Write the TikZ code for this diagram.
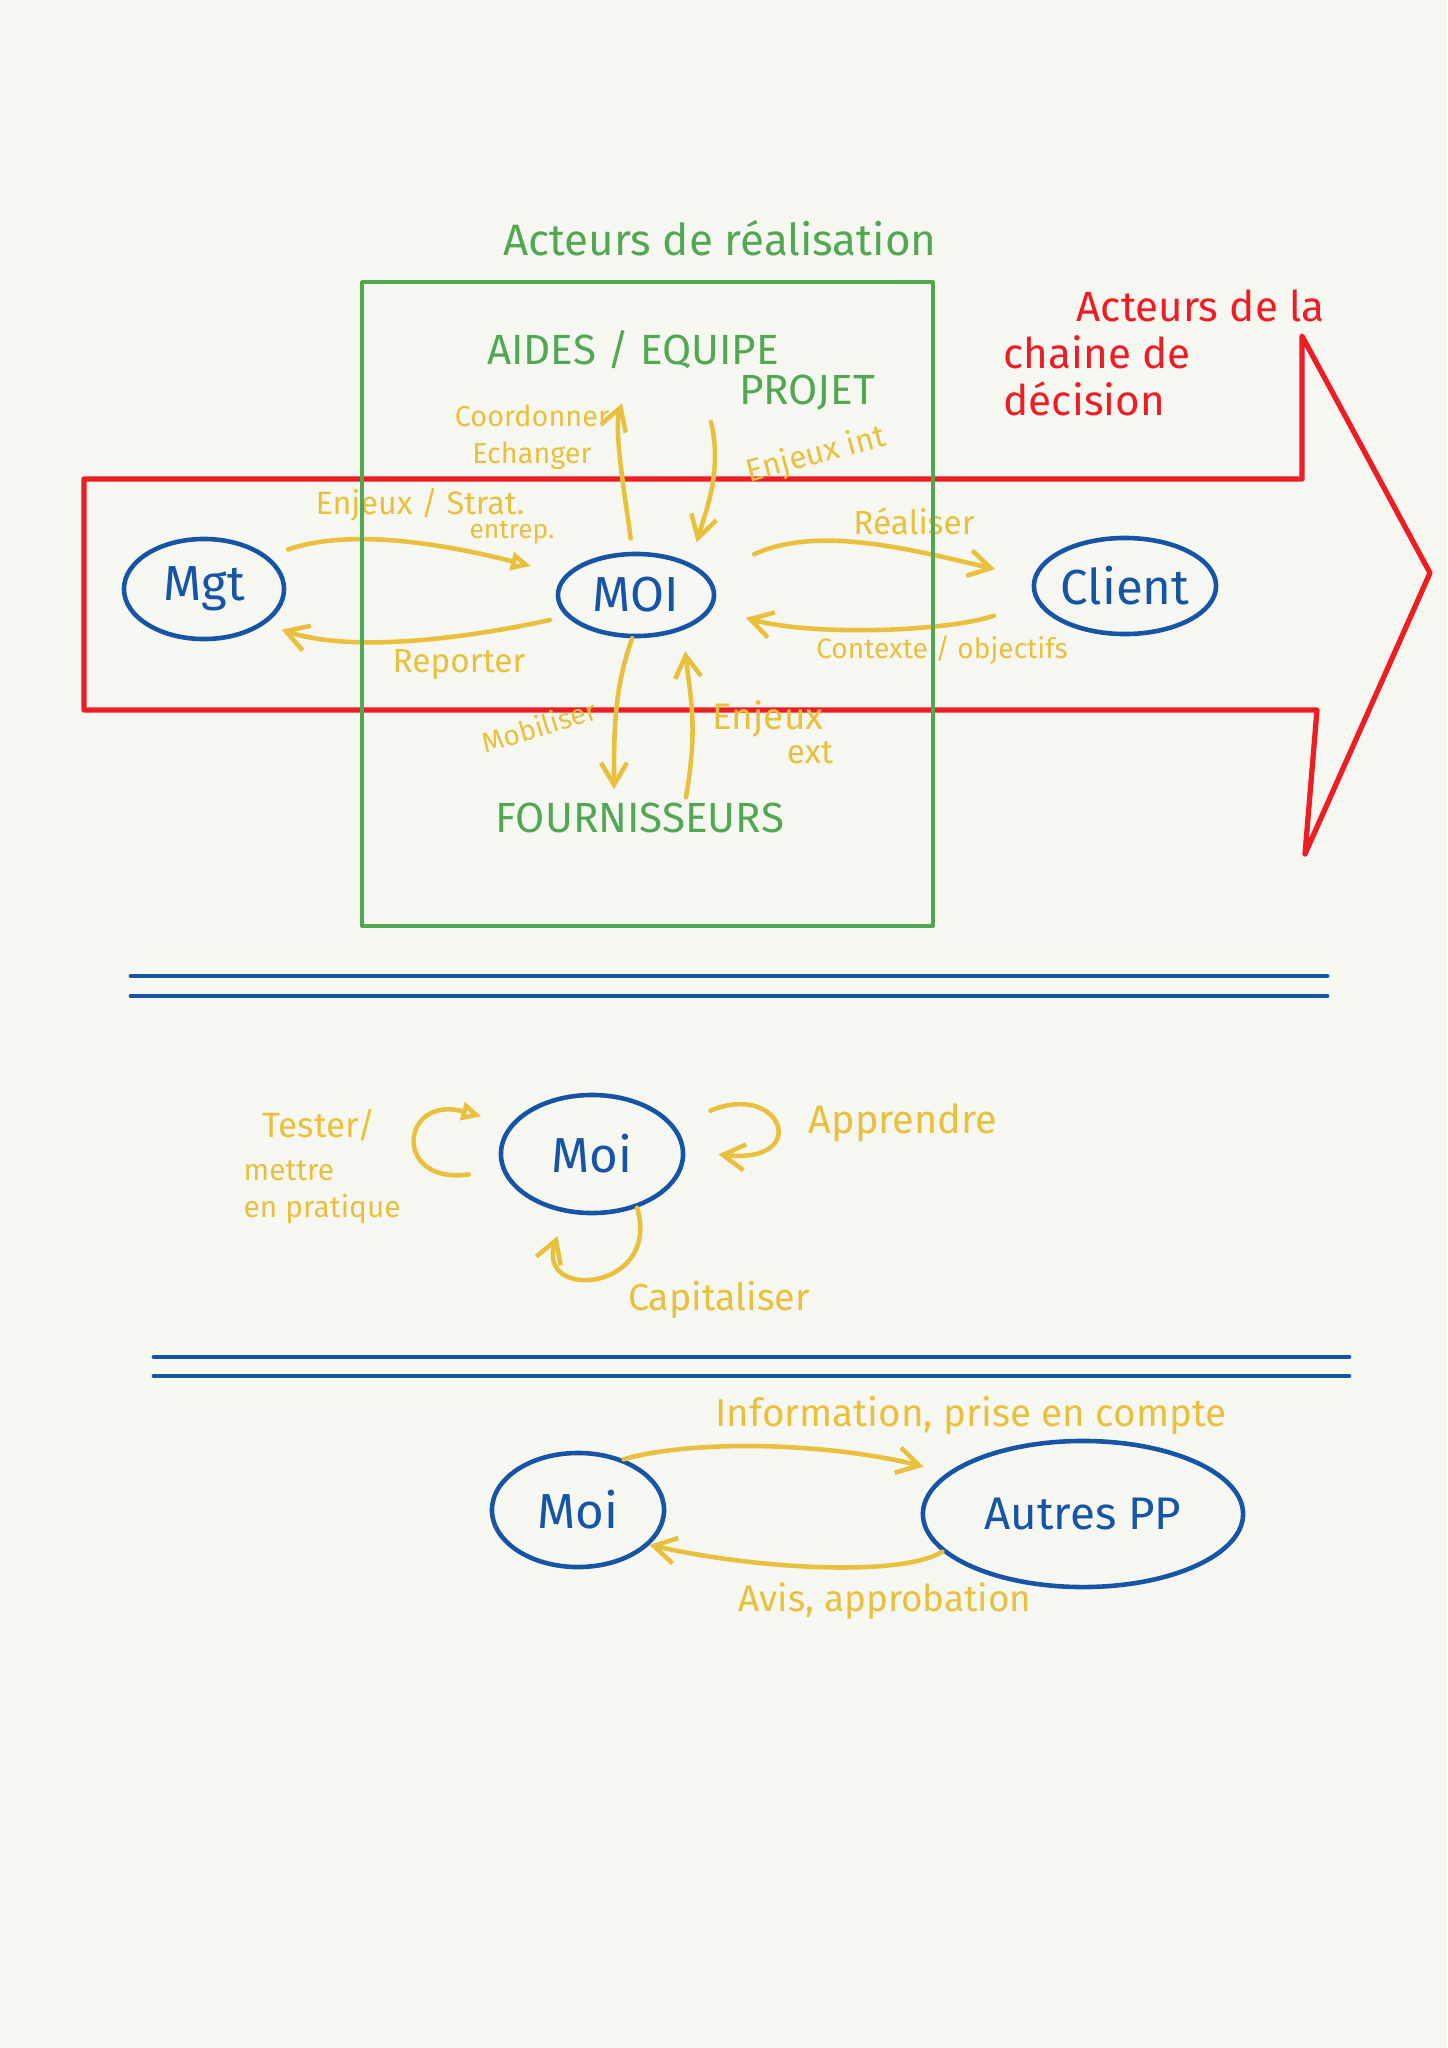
\documentclass[tikz,border=0pt]{standalone}
\usepackage{fontspec}
\setmainfont{Fira Sans}
\usetikzlibrary{arrows.meta,shapes.geometric}

\definecolor{paper}{RGB}{246,247,241}
\definecolor{bluepen}{RGB}{22,84,166}
\definecolor{yellowpen}{RGB}{232,192,62}
\definecolor{greenpen}{RGB}{82,168,82}
\definecolor{redpen}{RGB}{238,28,36}

\begin{document}
\begin{tikzpicture}[x=0.01cm, y=-0.01cm, line cap=round, line join=round,
    who/.style={ellipse, draw=bluepen, line width=1.3pt, inner sep=0pt, text=bluepen, font=\fontsize{14}{16}\selectfont},
    flow/.style={draw=yellowpen, line width=1.3pt, -{Straight Barb[length=2.2mm, width=2.6mm]}},
    openflow/.style={flow, -{Triangle[open, length=2mm, width=1.8mm]}},
    lbl/.style={text=yellowpen, inner sep=0pt, font=\fontsize{9.5}{11}\selectfont},
    grp/.style={text=greenpen, inner sep=0pt, font=\fontsize{12}{14}\selectfont},
    sep/.style={draw=bluepen, line width=1.4pt}]

    \fill[paper] (0,0) rectangle (1447,2048);
    \useasboundingbox (0,0) rectangle (1447,2048);

    % chaine de decision
    \draw[redpen, line width=1.5pt] (84,479) -- (1302,479) -- (1302,336) -- (1430,573) -- (1305,854) -- (1317,710) -- (84,710) -- cycle;
    \node[text=redpen, font=\fontsize{12}{13.4}\selectfont, align=left, anchor=north west, inner sep=0pt] (chaine) at (1003,289) {\hspace*{7.3mm}Acteurs de la\\chaine de\\décision};

    % acteurs de realisation
    \node[grp, font=\fontsize{12.5}{14}\selectfont] (titre) at (720,238) {Acteurs de réalisation};
    \node[grp] (aides) at (633,350) {AIDES / EQUIPE};
    \node[grp] (projet) at (807,393) {PROJET};
    \node[grp] (fourn) at (640,818) {FOURNISSEURS};
    \coordinate (eqout) at (711,422);

    \node[who, minimum width=1.6cm, minimum height=1cm] (mgt) at (204,589) {Mgt};
    \node[who, minimum width=1.56cm, minimum height=0.82cm] (moi) at (636,595) {MOI};
    \node[who, minimum width=1.74cm, minimum height=0.96cm] (client) at (1125,586) {Client};

    \draw[openflow, shorten <=6pt, shorten >=10pt] (mgt.27) .. controls +(70,-24) and +(-150,-38) .. (moi.164);
    \draw[flow, shorten <=4.7pt, shorten >=5pt] (moi.197) .. controls +(-90,20) and +(90,30) .. (mgt.-30);
    \draw[flow, shorten <=3.8pt, shorten >=10pt] (moi.95) .. controls +(-6,-50) and +(-20,60) .. (aides.south);
    \draw[flow, shorten >=6.2pt] (eqout) .. controls +(12,50) and +(14,-50) .. (moi.30);
    \draw[flow, shorten <=14.5pt, shorten >=11pt] (moi.15) .. controls +(110,-51) and +(-120,-28) .. (client.175);
    \draw[flow, shorten <=12.7pt, shorten >=9.9pt] (client.190) .. controls +(-90,30) and +(100,28) .. (moi.350);
    \draw[flow] (moi.265) .. controls +(-18,50) and +(0,-60) .. ([shift={(-26,-13)}]fourn.north);
    \draw[flow, shorten >=6pt] ([shift={(46,-5)}]fourn.north) .. controls +(12,-70) and +(8,70) .. (moi.-37);

    \node[lbl, font=\fontsize{9.2}{11}\selectfont] (enjstrat) at (420,505) {Enjeux / Strat.};
    \node[lbl, font=\fontsize{7.5}{9}\selectfont] (entrep) at (512,533) {entrep.};
    \node[lbl, font=\fontsize{8.2}{10.5}\selectfont, align=center] (coord) at (532,437) {Coordonner\\Echanger};
    \node[lbl, font=\fontsize{9}{11}\selectfont, rotate=15] (enjint) at (816,455) {Enjeux int};
    \node[lbl] (realiser) at (914,521) {Réaliser};
    \node[lbl] (reporter) at (459,665) {Reporter};
    \node[lbl, font=\fontsize{8}{10}\selectfont] (contexte) at (942,650) {Contexte / objectifs};
    \node[lbl, font=\fontsize{8}{10}\selectfont, rotate=17] (mobiliser) at (539,726) {Mobiliser};
    \node[lbl, font=\fontsize{10.5}{12}\selectfont] (enjext) at (768,719) {Enjeux};
    \node[lbl] (ext) at (810,753) {ext};

    \draw[greenpen, line width=1.1pt] (362,282) rectangle (933,926);

    % separateurs
    \draw[sep] (131,976) -- (1327,976);
    \draw[sep] (131,996) -- (1327,996);

    % boucles
    \node[who, minimum width=1.82cm, minimum height=1.18cm] (moiB) at (592,1154) {Moi};
    \draw[openflow, shorten <=9.5pt, shorten >=8.5pt] (moiB.190) .. controls +(-110,15) and +(-110,-30) .. (moiB.160);
    \draw[flow, shorten <=11pt, shorten >=9.5pt] (moiB.19) .. controls +(108,-45) and +(127,14) .. (moiB.2);
    \draw[flow, shorten >=7pt] (moiB.-50) .. controls +(25,84) and +(-32,89) .. (moiB.-114);

    \node[lbl, font=\fontsize{10}{12}\selectfont] (tester) at (319,1125) {Tester/};
    \node[lbl, font=\fontsize{8.5}{10.5}\selectfont, align=left, anchor=west] (pratique) at (243,1192) {mettre\\en pratique};
    \node[lbl, font=\fontsize{11.3}{13}\selectfont] (apprendre) at (903,1123) {Apprendre};
    \node[lbl, font=\fontsize{10.7}{13}\selectfont] (capitaliser) at (719,1300) {Capitaliser};

    \draw[sep] (154,1357) -- (1349,1357);
    \draw[sep] (154,1376) -- (1349,1376);

    % autres parties prenantes
    \node[who, minimum width=1.72cm, minimum height=1.14cm] (moiC) at (578,1510) {Moi};
    \node[who, minimum width=3.2cm, minimum height=1.46cm, font=\fontsize{13}{15}\selectfont] (autres) at (1083,1514) {Autres PP};

    \draw[flow, shorten >=7pt] (moiC.48) .. controls +(70,-20) and +(-120,-30) .. (autres.163);
    \draw[flow] (autres.-165) .. controls +(-40,25) and +(110,25) .. (moiC.-26);

    \node[lbl, font=\fontsize{11}{13}\selectfont] (info) at (971,1416) {Information, prise en compte};
    \node[lbl, font=\fontsize{10.5}{12}\selectfont] (avis) at (885,1601) {Avis, approbation};
\end{tikzpicture}
\end{document}
